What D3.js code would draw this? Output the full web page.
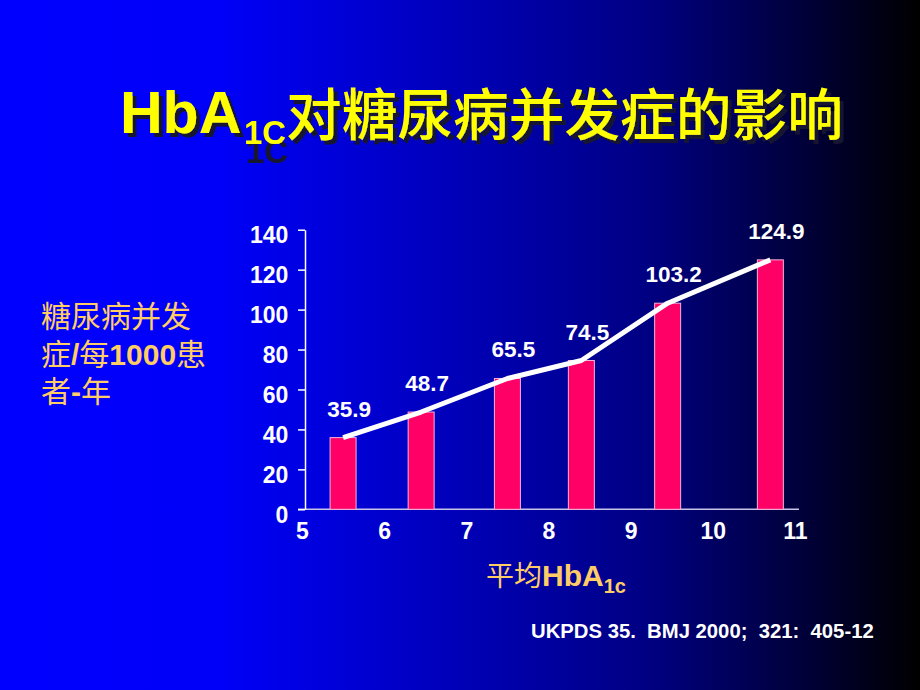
<!DOCTYPE html>
<html><head><meta charset="utf-8">
<script src="https://cdn.jsdelivr.net/npm/d3@7"></script>
<style>
html,body{margin:0;padding:0;background:#000;}
svg{display:block;}
.lat{font-family:"Liberation Sans",Arial,sans-serif;font-weight:bold;}
.cjk{font-family:"Noto Sans CJK SC",sans-serif;font-weight:normal;}
</style></head>
<body>
<svg id="chart" width="920" height="690"></svg>
<script>
// ---- data ----
const hba1cMeans = [5.5, 6.45, 7.5, 8.4, 9.45, 10.7];
const rates = [35.9, 48.7, 65.5, 74.5, 103.2, 124.9];
const rateLabels = ["35.9", "48.7", "65.5", "74.5", "103.2", "124.9"];
const xTicks = [5, 6, 7, 8, 9, 10, 11];
const yTicks = [0, 20, 40, 60, 80, 100, 120, 140];
const titleLatin = "HbA";
const titleSub = "1C";
const titleCjk = "对糖尿病并发症的影响";
const yLabelLines = [
  [["cjk","糖尿病并发"]],
  [["cjk","症"],["lat","/"],["cjk","每"],["lat","1000"],["cjk","患"]],
  [["cjk","者"],["lat","-"],["cjk","年"]]
];
const source = "UKPDS 35.  BMJ 2000;  321:  405-12";

const svg = d3.select("#chart");
const W = 920, H = 690;

// background gradient
const defs = svg.append("defs");
const g = defs.append("linearGradient").attr("id","bg").attr("x1","0").attr("x2","1").attr("y1","0").attr("y2","0");
[[0,"#0000ff"],[0.24,"#0000f8"],[0.45,"#0000c4"],[0.7,"#000084"],[0.89,"#000032"],[1,"#000000"]]
  .forEach(([o,c]) => g.append("stop").attr("offset", o).attr("stop-color", c));
svg.append("rect").attr("width",W).attr("height",H).attr("fill","url(#bg)");

// shadow filters
function shadow(id, dx, dy) {
  const f = defs.append("filter").attr("id", id).attr("x", "-10%").attr("y", "-30%").attr("width", "130%").attr("height", "200%");
  f.append("feDropShadow").attr("dx", dx).attr("dy", dy).attr("stdDeviation", 0)
    .attr("flood-color", "#121230").attr("flood-opacity", 1);
}
shadow("sh", 4, 4);
shadow("shSub", 2, 19);

// title
const title = svg.append("g");
title.append("text").attr("class", "lat").attr("x", 120).attr("y", 133).attr("font-size", 59)
  .attr("fill", "#ffff00").attr("filter", "url(#sh)").text(titleLatin);
title.append("text").attr("class", "lat").attr("x", 244).attr("y", 144).attr("font-size", 33)
  .attr("fill", "#ffff00").attr("filter", "url(#shSub)").text(titleSub);
title.append("text").attr("class", "cjk").attr("x", 286).attr("y", 135).attr("font-size", 55.7)
  .style("font-weight", 500).attr("fill", "#ffff00").attr("filter", "url(#sh)").text(titleCjk);

// scales
const x = d3.scaleLinear().domain([5, 11]).range([302, 795]);
const y = d3.scaleLinear().domain([0, 140]).range([509.3, 229.7]);
const axisX = 305;

// x axis line (extends slightly beyond the domain)
svg.append("line").attr("x1", x(5) - 4).attr("x2", x(11) + 4)
  .attr("y1", y(0)).attr("y2", y(0)).attr("stroke", "#c8c4e8").attr("stroke-width", 1.5);

// bars
const data = hba1cMeans.map((m, i) => ({m, r: rates[i], lab: rateLabels[i]}));
const barW = 26;
svg.append("g").selectAll("rect").data(data).join("rect")
  .attr("x", d => x(d.m) - barW / 2).attr("width", barW)
  .attr("y", d => y(d.r)).attr("height", d => y(0) - y(d.r))
  .attr("fill", "#ff0066").attr("stroke", "#f0b4dc").attr("stroke-width", 1);

// y axis
const yAxis = svg.append("g").attr("transform", `translate(${axisX},0)`)
  .call(d3.axisLeft(y).tickValues(yTicks).tickSize(7).tickSizeOuter(0).tickPadding(9.7));
yAxis.select(".domain").attr("stroke", "#ffffff").attr("stroke-width", 1.5);
yAxis.selectAll(".tick line").attr("stroke", "#ffffff").attr("stroke-width", 1.5);
yAxis.selectAll(".tick text").attr("class", "lat").attr("font-size", 23).attr("fill", "#ffffff").attr("y", 5.5);

// x axis labels
const xAxis = svg.append("g").attr("transform", `translate(0,${y(0)})`)
  .call(d3.axisBottom(x).tickValues(xTicks).tickSize(0).tickPadding(13.4).tickFormat(d3.format("d")));
xAxis.select(".domain").remove();
xAxis.selectAll(".tick text").attr("class", "lat").attr("font-size", 23).attr("fill", "#ffffff");

// line
svg.append("path").datum(data)
  .attr("d", d3.line().x(d => x(d.m)).y(d => y(d.r)))
  .attr("fill", "none").attr("stroke", "#ffffff").attr("stroke-width", 5).attr("stroke-linejoin", "round");

// value labels
svg.append("g").selectAll("text").data(data).join("text")
  .attr("class", "lat").attr("x", d => x(d.m) + 6).attr("y", d => y(d.r) - 21)
  .attr("text-anchor", "middle").attr("font-size", 22.5).attr("fill", "#ffffff").text(d => d.lab);

// y label
const yl = svg.append("g");
yLabelLines.forEach((ps, i) => {
  const t = yl.append("text").attr("x", 41).attr("y", 327 + i * 37.5).attr("font-size", 30).attr("fill", "#ffcc66");
  ps.forEach(([cls, s]) => t.append("tspan").attr("class", cls).text(s));
});

// x label
const xl = svg.append("text").attr("x", 486).attr("y", 586).attr("fill", "#ffcc66");
xl.append("tspan").attr("class", "cjk").attr("font-size", 28).text("平均");
xl.append("tspan").attr("class", "lat").attr("font-size", 30).text("HbA");
xl.append("tspan").attr("class", "lat").attr("font-size", 20).attr("dy", 6.5).text("1c");

// source
svg.append("text").attr("class", "lat").attr("x", 531).attr("y", 638.3).attr("font-size", 20.3)
  .attr("fill", "#ffffff").style("white-space", "pre").text(source);
</script>
</body></html>
